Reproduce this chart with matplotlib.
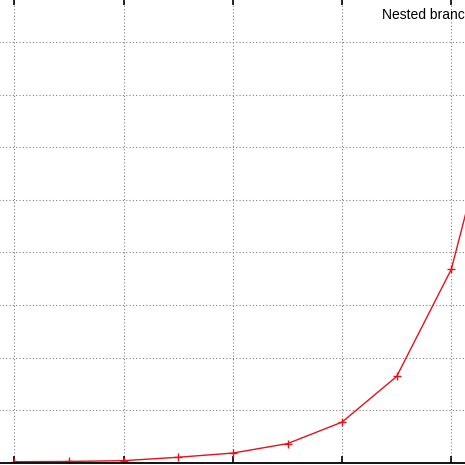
import numpy as np
import matplotlib
matplotlib.use("Agg")
import matplotlib.pyplot as plt

# cropped view of a gnuplot-style line chart
x_vals = [0, 1, 2, 3, 4, 5, 6, 7, 8, 9]
y_vals = [0.015, 0.02, 0.035, 0.10, 0.18, 0.36, 0.77, 1.64, 3.68, 7.7]
x_ticks = [0, 2, 4, 6, 8]
y_ticks = [0, 1, 2, 3, 4, 5, 6, 7, 8]
key_label = "Nested branches"

W = H = 465
fig = plt.figure(figsize=(W / 100, H / 100), dpi=100)

# axes reach past the picture edges (the reference is a crop)
px_per_x = 54.6
px_per_y = 52.5
x0, x1 = -0.5, 9.5
y0, y1 = 0, 8.85
left_px = 14.5 + x0 * px_per_x
bottom_px = 2.5
ax = fig.add_axes([
    left_px / W,
    bottom_px / H,
    (x1 - x0) * px_per_x / W,
    (y1 - y0) * px_per_y / H,
])
ax.set_xlim(x0, x1)
ax.set_ylim(y0, y1)

ax.plot(x_vals, y_vals, color="#e8101c", lw=1.0, marker="+", ms=6, mew=1.0,
        clip_on=True)

ax.set_xticks(x_ticks)
ax.set_yticks(y_ticks)
ax.grid(True, color="#808080", lw=0.8, linestyle=(0, (1, 2)))
ax.tick_params(axis="both", direction="in", top=True, right=True,
               length=5, width=1.2, color="black",
               labelbottom=False, labelleft=False)
for s in ax.spines.values():
    s.set_linewidth(1.3)
    s.set_color("black")

fig.text(382 / W, 1 - 19 / H, key_label, ha="left", va="baseline",
         fontsize=10, family=["Liberation Sans", "DejaVu Sans"])

fig.savefig("out.png", dpi=100)
